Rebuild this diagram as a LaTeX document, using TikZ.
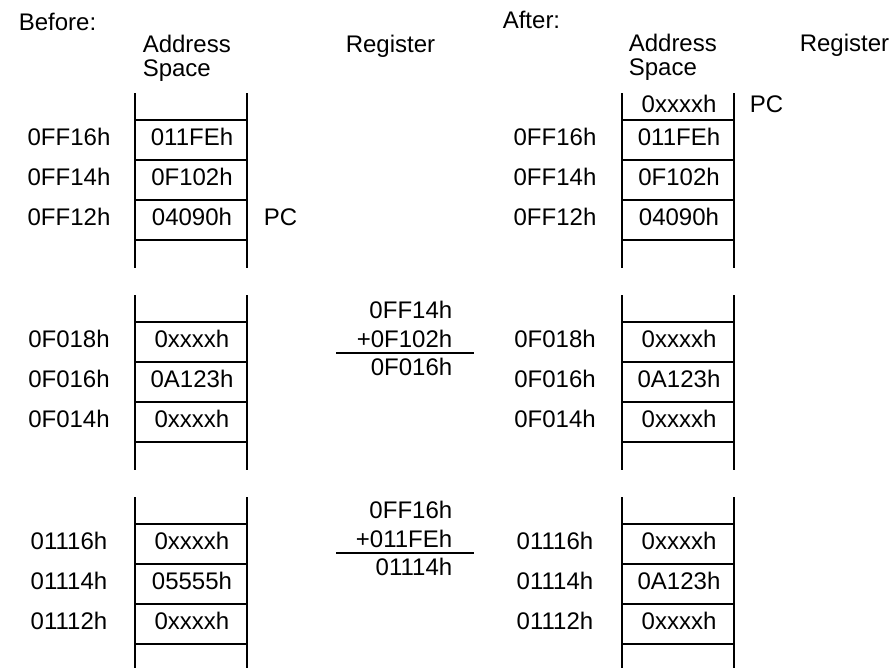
\documentclass[tikz,border=0pt]{standalone}
\usepackage{fontspec}
\setmainfont{Liberation Sans}
\begin{document}
\begin{tikzpicture}[x=1pt,y=-1pt,line width=1.6pt,every node/.style={font=\fontsize{24}{24}\selectfont,inner sep=0pt}]
        \useasboundingbox(0,0)rectangle(892,667);
        % headings
        \node[anchor=base west](before)at(18,30){Before:};
        \node[anchor=base west,align=left](spcb)at(142,76){Address\\Space};
        \node[anchor=base west](regb)at(345,52){Register};
        \node[anchor=base west](after)at(502,28){After:};
        \node[anchor=base west,align=left](spca)at(628,75){Address\\Space};
        \node[anchor=base west](rega)at(799,51){Register};
        % memory columns
        \foreach \n/\xl/\xa/\yo/\la/\lb/\lc/\ca/\cb/\cc in{
            bf/135/69/0/0FF16h/0FF14h/0FF12h/011FEh/0F102h/04090h,
            bs/135/69/202/0F018h/0F016h/0F014h/0xxxxh/0A123h/0xxxxh,
            bt/135/69/404/01116h/01114h/01112h/0xxxxh/05555h/0xxxxh,
            af/622/555/0/0FF16h/0FF14h/0FF12h/011FEh/0F102h/04090h,
            as/622/555/202/0F018h/0F016h/0F014h/0xxxxh/0A123h/0xxxxh,
            at/622/555/404/01116h/01114h/01112h/0xxxxh/0A123h/0xxxxh}{
            \draw(\xl,93+\yo)--(\xl,268+\yo)(\xl+112,93+\yo)--(\xl+112,268+\yo);
            \foreach \k in{0,...,3}\draw(\xl,120+\yo+40*\k)--(\xl+112,120+\yo+40*\k);
            \node(\n-la)at(\xa,137+\yo){\la};\node(\n-ca)at(\xl+57,137+\yo){\ca};
            \node(\n-lb)at(\xa,177+\yo){\lb};\node(\n-cb)at(\xl+57,177+\yo){\cb};
            \node(\n-lc)at(\xa,217+\yo){\lc};\node(\n-cc)at(\xl+57,217+\yo){\cc};
        }
        \node[anchor=west](pcb)at(263,217){PC};
        \node(af-top)at(679,104){0xxxxh};
        \node[anchor=west](pca)at(749,104){PC};
        % address sums
        \foreach \n/\yo/\ta/\tb/\tc in{sa/0/0FF14h/+0F102h/0F016h,sb/200/0FF16h/+011FEh/01114h}{
            \node[anchor=base east](\n-a)at(453,318+\yo){\ta};
            \node[anchor=base east](\n-b)at(453,347+\yo){\tb};
            \draw(336,353+\yo)--(474,353+\yo);
            \node[anchor=base east](\n-c)at(453,375+\yo){\tc};
        }
\end{tikzpicture}
\end{document}
